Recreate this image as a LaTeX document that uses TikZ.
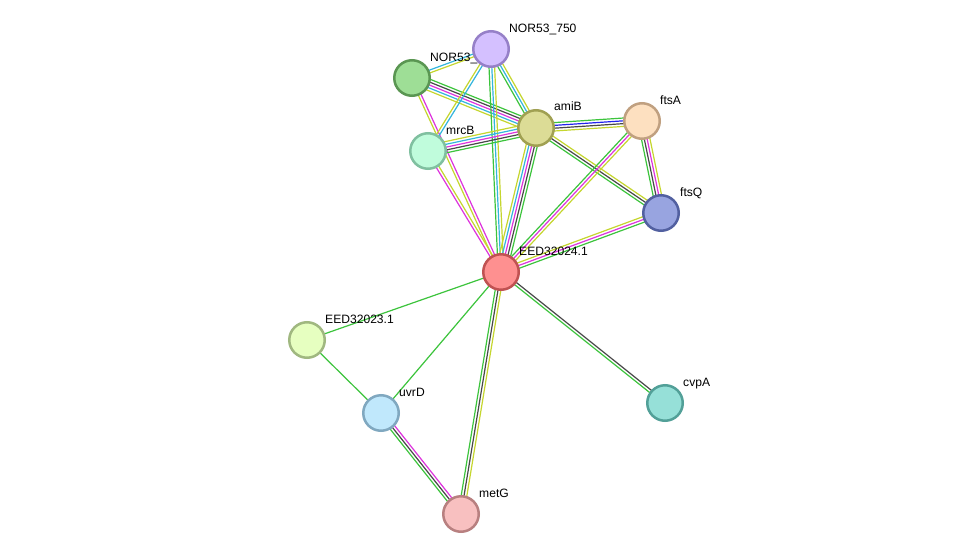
\documentclass[tikz,border=0pt]{standalone}
\usepackage{fontspec}
\setmainfont{Liberation Sans}
\usetikzlibrary{calc}
\definecolor{cgreen}{HTML}{3CC43C}
\definecolor{cblack}{HTML}{484848}
\definecolor{cmag}{HTML}{DD33DD}
\definecolor{ccyan}{HTML}{33B5DD}
\definecolor{cyel}{HTML}{C5D62E}
\definecolor{cblue}{HTML}{2222EE}
\pgfdeclarelayer{bg}
\pgfdeclarelayer{edges}
\pgfsetlayers{bg,edges,main}
\newcommand\medge[4]{%
  \foreach \c [count=\i] in {#4}{%
    \pgfmathsetmacro\off{(\i-(#3+1)/2)*2.8}%
    \draw[ln,\c] ($(#1.center)!\off pt!90:(#2.center)$) -- ($(#2.center)!\off pt!-90:(#1.center)$);
  }}
\tikzset{
  ln/.style={line width=1.2pt},
  prot/.style={circle, minimum size=35.5pt, inner sep=0pt, line width=2.5pt},
  lbl/.style={anchor=west, inner sep=0pt, text height=9pt, text depth=0pt, font=\fontsize{12.1}{14}\selectfont}
}
\begin{document}
\begin{tikzpicture}[x=1pt,y=-1pt]
\begin{pgfonlayer}{bg}
\useasboundingbox[fill=white] (0,0) rectangle (976,559);
\end{pgfonlayer}
% labels
\node[lbl] (l750) at (509,28) {NOR53\_750};
\node[lbl] (l749) at (430,57) {NOR53\_};
\node[lbl] (lamiB) at (554,106) {amiB};
\node[lbl] (lftsA) at (660,100) {ftsA};
\node[lbl] (lmrcB) at (446,130) {mrcB};
\node[lbl] (lftsQ) at (680,192) {ftsQ};
\node[lbl] (le24) at (519,251) {EED32024.1};
\node[lbl] (le23) at (325,319) {EED32023.1};
\node[lbl] (luvrD) at (399,392) {uvrD};
\node[lbl] (lcvpA) at (683,382) {cvpA};
\node[lbl] (lmetG) at (479,493) {metG};
% nodes
\node[prot, fill={rgb,255:red,212;green,192;blue,255}, draw={rgb,255:red,150;green,128;blue,200}] (n750) at (491,49) {};
\node[prot, fill={rgb,255:red,158;green,222;blue,150}, draw={rgb,255:red,90;green,150;blue,82}] (n749) at (412,78) {};
\node[prot, fill={rgb,255:red,220;green,220;blue,150}, draw={rgb,255:red,160;green,160;blue,82}] (amiB) at (536,128) {};
\node[prot, fill={rgb,255:red,253;green,224;blue,192}, draw={rgb,255:red,192;green,160;blue,128}] (ftsA) at (642,121) {};
\node[prot, fill={rgb,255:red,192;green,252;blue,220}, draw={rgb,255:red,128;green,192;blue,160}] (mrcB) at (428,151) {};
\node[prot, fill={rgb,255:red,152;green,164;blue,224}, draw={rgb,255:red,82;green,96;blue,160}] (ftsQ) at (661,213) {};
\node[prot, fill={rgb,255:red,254;green,144;blue,144}, draw={rgb,255:red,192;green,82;blue,82}] (e24) at (501,272) {};
\node[prot, fill={rgb,255:red,230;green,255;blue,192}, draw={rgb,255:red,160;green,184;blue,128}] (e23) at (307,340) {};
\node[prot, fill={rgb,255:red,192;green,232;blue,252}, draw={rgb,255:red,128;green,168;blue,192}] (uvrD) at (381,413) {};
\node[prot, fill={rgb,255:red,150;green,224;blue,216}, draw={rgb,255:red,82;green,160;blue,152}] (cvpA) at (665,403) {};
\node[prot, fill={rgb,255:red,248;green,192;blue,192}, draw={rgb,255:red,184;green,128;blue,128}] (metG) at (461,514) {};
% edges
\begin{pgfonlayer}{edges}
\medge{n749}{n750}{2}{cyel,ccyan}
\medge{n749}{amiB}{5}{cyel,ccyan,cmag,cblack,cgreen}
\medge{n749}{e24}{2}{cyel,cmag}
\medge{n750}{mrcB}{2}{cyel,ccyan}
\medge{n750}{amiB}{3}{cgreen,ccyan,cyel}
\medge{n750}{e24}{3}{cgreen,ccyan,cyel}
\medge{mrcB}{amiB}{5}{cgreen,cblack,cmag,ccyan,cyel}
\medge{mrcB}{e24}{2}{cmag,cyel}
\medge{amiB}{ftsA}{4}{cyel,cblack,cblue,cgreen}
\medge{amiB}{ftsQ}{3}{cgreen,cblack,cyel}
\medge{amiB}{e24}{5}{cyel,ccyan,cmag,cblack,cgreen}
\medge{ftsA}{ftsQ}{4}{cgreen,cblack,cmag,cyel}
\medge{ftsA}{e24}{3}{cgreen,cmag,cyel}
\medge{ftsQ}{e24}{3}{cyel,cmag,cgreen}
\medge{e24}{e23}{1}{cgreen}
\medge{e24}{uvrD}{1}{cgreen}
\medge{e24}{metG}{3}{cgreen,cblack,cyel}
\medge{e24}{cvpA}{2}{cgreen,cblack}
\medge{e23}{uvrD}{1}{cgreen}
\medge{uvrD}{metG}{3}{cgreen,cblack,cmag}
\end{pgfonlayer}
\end{tikzpicture}
\end{document}
